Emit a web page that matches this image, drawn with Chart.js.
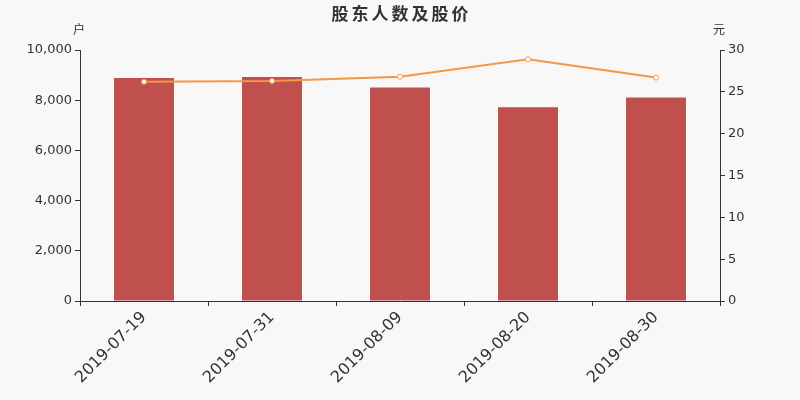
<!DOCTYPE html>
<html>
<head>
<meta charset="utf-8">
<script src="https://cdn.jsdelivr.net/npm/chart.js@4/dist/chart.umd.min.js"></script>
<style>
html,body{margin:0;padding:0;background:#f8f8f8;}
#wrap{width:800px;height:400px;position:relative;}
</style>
</head>
<body>
<div id="wrap"><canvas id="c" width="800" height="400"></canvas></div>
<script>
const categories = ['2019-07-19','2019-07-31','2019-08-09','2019-08-20','2019-08-30'];
const holders = [8880, 8920, 8510, 7720, 8110];
const prices = [26.2, 26.3, 26.8, 28.9, 26.7];
const chartTitle = '股东人数及股价';
const leftUnit = '户';
const rightUnit = '元';

const txt = '#333333';
const fontFam = '"DejaVu Sans", "Noto Sans CJK SC", sans-serif';

const bgPlugin = {
  id: 'bg',
  beforeDraw(chart) {
    const ctx = chart.ctx;
    ctx.save();
    ctx.fillStyle = '#f8f8f8';
    ctx.fillRect(0, 0, chart.width, chart.height);
    ctx.restore();
  },
  afterDraw(chart) {
    const ctx = chart.ctx;
    const a = chart.chartArea;
    ctx.save();
    ctx.fillStyle = txt;
    ctx.textAlign = 'center';
    ctx.textBaseline = 'middle';
    ctx.font = 'bold 17px "Noto Sans CJK SC", sans-serif';
    if ('letterSpacing' in ctx) ctx.letterSpacing = '3px';
    ctx.fillText(chartTitle, (a.left + a.right) / 2 + 1.5, 14);
    if ('letterSpacing' in ctx) ctx.letterSpacing = '0px';
    ctx.font = '12px "Noto Sans CJK SC", sans-serif';
    ctx.fillText(leftUnit, a.left - 1, a.top - 21);
    ctx.fillText(rightUnit, a.right - 1, a.top - 21);
    ctx.restore();
  }
};

new Chart(document.getElementById('c'), {
  data: {
    labels: categories,
    datasets: [
      {
        type: 'line',
        label: '股价',
        data: prices,
        yAxisID: 'y1',
        borderColor: '#f79646',
        borderWidth: 2,
        pointRadius: 2.5,
        pointBackgroundColor: '#ffffff',
        pointBorderColor: '#f79646',
        pointBorderWidth: 1,
        tension: 0,
        order: 0
      },
      {
        type: 'bar',
        label: '股东人数',
        data: holders,
        yAxisID: 'y',
        backgroundColor: '#c0504d',
        categoryPercentage: 60/128,
        barPercentage: 1,
        order: 1
      }
    ]
  },
  options: {
    responsive: false,
    animation: false,
    devicePixelRatio: 1,
    layout: { padding: { top: 50, left: 0, right: 0, bottom: 0 } },
    plugins: { legend: { display: false }, title: { display: false }, tooltip: { enabled: false } },
    scales: {
      x: {
        offset: true,
        afterFit(s) { s.height = 99; },
        grid: { display: true, offset: true, drawOnChartArea: false, drawTicks: true, tickLength: 5, color: txt },
        border: { display: true, color: txt, width: 1 },
        ticks: { color: txt, font: { family: fontFam, size: 16 }, minRotation: 45, maxRotation: 45, padding: 2 }
      },
      y: {
        position: 'left',
        min: 0, max: 10000,
        afterFit(s) { s.width = 80; },
        grid: { drawOnChartArea: false, drawTicks: true, tickLength: 5, color: txt },
        border: { display: true, color: txt, width: 1 },
        ticks: { stepSize: 2000, color: txt, font: { family: fontFam, size: 13 }, padding: 3,
          callback: v => v.toLocaleString('en-US') }
      },
      y1: {
        position: 'right',
        min: 0, max: 30,
        afterFit(s) { s.width = 80; },
        grid: { drawOnChartArea: false, drawTicks: true, tickLength: 5, color: txt },
        border: { display: true, color: txt, width: 1 },
        ticks: { stepSize: 5, color: txt, font: { family: fontFam, size: 13 }, padding: 3 }
      }
    }
  },
  plugins: [bgPlugin]
});
</script>
</body>
</html>
